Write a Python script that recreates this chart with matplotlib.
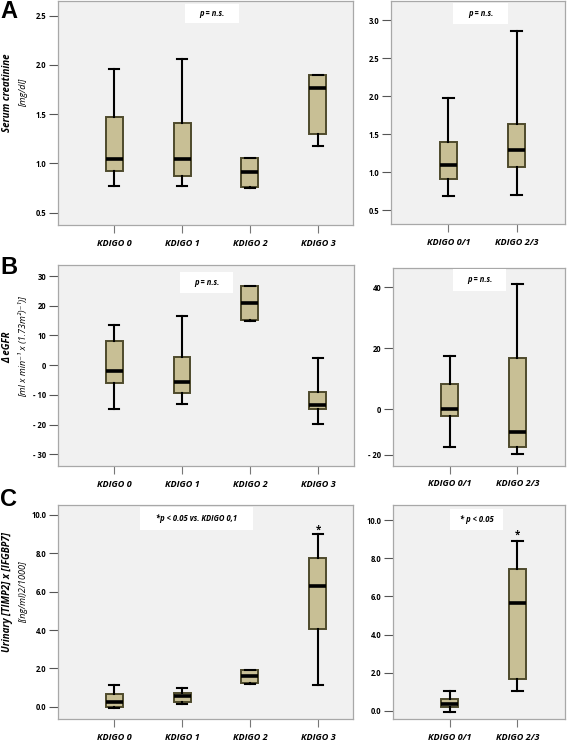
import numpy as np
import matplotlib.pyplot as plt
from matplotlib.patches import Rectangle

plt.rcParams['font.family'] = ['Open Sans', 'DejaVu Sans']

W, H = 567, 746

# ---- data ----
groups4 = ['KDIGO 0', 'KDIGO 1', 'KDIGO 2', 'KDIGO 3']
groups2 = ['KDIGO 0/1', 'KDIGO 2/3']

# A: serum creatinine
a_lo = [0.77, 0.77, 0.75, 1.18]
a_q1 = [0.92, 0.87, 0.76, 1.30]
a_med = [1.05, 1.05, 0.91, 1.77]
a_q3 = [1.47, 1.41, 1.06, 1.90]
a_hi = [1.96, 2.06, 1.06, 1.90]

a2_lo = [0.68, 0.70]
a2_q1 = [0.91, 1.07]
a2_med = [1.09, 1.29]
a2_q3 = [1.40, 1.63]
a2_hi = [1.98, 2.85]

# B: delta eGFR
b_lo = [-14.8, -13.2, 14.9, -19.7]
b_q1 = [-5.9, -9.3, 15.2, -14.85]
b_med = [-1.9, -5.8, 20.8, -13.5]
b_q3 = [8.1, 2.85, 26.6, -9.0]
b_hi = [13.5, 16.5, 26.6, 2.3]

b2_lo = [-16.5, -19.7]
b2_q1 = [-3.1, -16.4]
b2_med = [0.0, -9.8]
b2_q3 = [8.2, 16.8]
b2_hi = [17.4, 41.0]

# C: urinary [TIMP2] x [IGFBP7]
c_lo = [-0.05, 0.16, 1.20, 1.11]
c_q1 = [0.00, 0.24, 1.23, 4.06]
c_med = [0.24, 0.56, 1.58, 6.32]
c_q3 = [0.66, 0.71, 1.91, 7.78]
c_hi = [1.11, 1.00, 1.91, 8.99]
c_star = [None, None, None, 9.2]

c2_lo = [-0.07, 1.06]
c2_q1 = [0.19, 1.69]
c2_med = [0.35, 5.65]
c2_q3 = [0.64, 7.46]
c2_hi = [1.06, 8.91]
c2_star = [None, 9.2]

BOX_FC = '#c8bf95'
BOX_EC = '#4e4a2c'
BG = '#f1f1f1'

fig = plt.figure(figsize=(W / 100, H / 100), dpi=100)


def ax_at(l, t, r, b):
    return fig.add_axes([l / W, 1 - b / H, (r - l) / W, (b - t) / H])


def draw(ax, names, lo, q1, med, q3, hi, xlim, ylim, yticks, yticklabels):
    stats = [dict(whislo=w0, q1=a, med=m, q3=c, whishi=w1, label=n)
             for n, w0, a, m, c, w1 in zip(names, lo, q1, med, q3, hi)]
    pos = np.arange(1, len(names) + 1)
    ax.bxp(stats, positions=pos, widths=0.25, capwidths=0.16, patch_artist=True,
           showfliers=False,
           boxprops=dict(facecolor=BOX_FC, edgecolor=BOX_EC, linewidth=1.4),
           medianprops=dict(color='black', linewidth=2.6),
           whiskerprops=dict(color='black', linewidth=1.5),
           capprops=dict(color='black', linewidth=1.5))
    ax.set_facecolor(BG)
    ax.set_xlim(*xlim)
    ax.set_ylim(*ylim)
    ax.set_yticks(yticks)
    ax.set_yticklabels(yticklabels, fontsize=5.5, fontweight='bold')
    ax.set_xticks(pos)
    ax.set_xticklabels(names, fontsize=6.5, fontweight='bold', fontstyle='italic')
    ax.tick_params(axis='y', length=6.5, width=0.8, color='#555555', pad=2)
    ax.tick_params(axis='x', length=5.8, width=0.8, color='#777777', pad=4)
    for s in ax.spines.values():
        s.set_color('#a8a8a8')
        s.set_linewidth(0.9)


def pbox(l, t, r, b, txt):
    fig.add_artist(Rectangle((l / W, 1 - b / H), (r - l) / W, (b - t) / H,
                             transform=fig.transFigure, facecolor='white',
                             edgecolor='none', zorder=5))
    fig.text((l + r) / 2 / W, 1 - (t + b) / 2 / H, txt, ha='center', va='center',
             fontsize=5.5, fontweight='bold', fontstyle='italic', zorder=6)


# ---- A ----
axA1 = ax_at(58, 1, 353, 225)
draw(axA1, groups4, a_lo, a_q1, a_med, a_q3, a_hi, (0.176, 4.515), (0.375, 2.65),
     [0.5, 1.0, 1.5, 2.0, 2.5], ['0.5', '1.0', '1.5', '2.0', '2.5'])
axA2 = ax_at(391, 1, 565, 224)
draw(axA2, groups2, a2_lo, a2_q1, a2_med, a2_q3, a2_hi, (0.162, 2.706), (0.316, 3.25),
     [0.5, 1.0, 1.5, 2.0, 2.5, 3.0], ['0.5', '1.0', '1.5', '2.0', '2.5', '3.0'])

# ---- B ----
axB1 = ax_at(58, 265, 354, 466)
draw(axB1, groups4, b_lo, b_q1, b_med, b_q3, b_hi, (0.176, 4.53), (-33.9, 33.7),
     [-30, -20, -10, 0, 10, 20, 30], ['- 30', '- 20', '- 10', '0', '10', '20', '30'])

K = 0.752  # the reference squeezes the negative part of this axis


def fwd(y):
    y = np.asarray(y, dtype=float)
    return np.where(y < 0, y * K, y)


def inv(y):
    y = np.asarray(y, dtype=float)
    return np.where(y < 0, y / K, y)


axB2 = ax_at(393, 268, 565, 465.5)
axB2.set_yscale('function', functions=(fwd, inv))
draw(axB2, groups2, b2_lo, b2_q1, b2_med, b2_q3, b2_hi, (0.162, 2.706), (-24.6, 46.4),
     [-20, 0, 20, 40], ['- 20', '0', '20', '40'])
axB2.yaxis.set_minor_locator(plt.NullLocator())

# ---- C ----
ct = [0, 2, 4, 6, 8, 10]
ctl = ['0.0', '2.0', '4.0', '6.0', '8.0', '10.0']
axC1 = ax_at(58, 505, 353, 719)
draw(axC1, groups4, c_lo, c_q1, c_med, c_q3, c_hi, (0.176, 4.515), (-0.64, 10.52), ct, ctl)
axC2 = ax_at(393, 505, 565, 719)
draw(axC2, groups2, c2_lo, c2_q1, c2_med, c2_q3, c2_hi, (0.162, 2.706), (-0.43, 10.79), ct, ctl)
for ax, stars in ((axC1, c_star), (axC2, c2_star)):
    for i, s in enumerate(stars):
        if s is not None:
            ax.text(i + 1, s, '*', ha='center', va='center', fontsize=7, fontweight='bold')

# ---- p-value boxes ----
pbox(185, 4, 239, 23, 'p = n.s.')
pbox(453, 3, 508, 24, 'p = n.s.')
pbox(180, 272, 233, 293, 'p = n.s.')
pbox(453, 269, 506, 291, 'p = n.s.')
pbox(140, 507, 253, 530, '*p < 0.05 vs. KDIGO 0,1')
pbox(450, 509, 503, 530, '* p < 0.05')

# ---- y labels and panel letters ----
def ylab(x1, x2, yc, l1, l2):
    fig.text(x1 / W, 1 - yc / H, l1, rotation=90, ha='center', va='center',
             fontsize=7, fontweight='bold', fontstyle='italic')
    fig.text(x2 / W, 1 - yc / H, l2, rotation=90, ha='center', va='center',
             fontsize=6.5, fontstyle='italic')


ylab(8, 24, 93, 'Serum creatinine', '[mg/dl]')
ylab(8, 24, 347, 'Δ eGFR', '[ml x min⁻¹ x (1.73m²)⁻¹)]')
ylab(8, 24, 592, 'Urinary [TIMP2] x [IFGBP7]', '[(ng/ml)2/1000]')

for y, letter in ((12, 'A'), (268, 'B'), (500, 'C')):
    fig.text(0, 1 - y / H, letter, ha='left', va='center', fontsize=17,
             fontweight='bold', family=['Liberation Sans', 'DejaVu Sans'])

fig.savefig('out.png', dpi=100)
